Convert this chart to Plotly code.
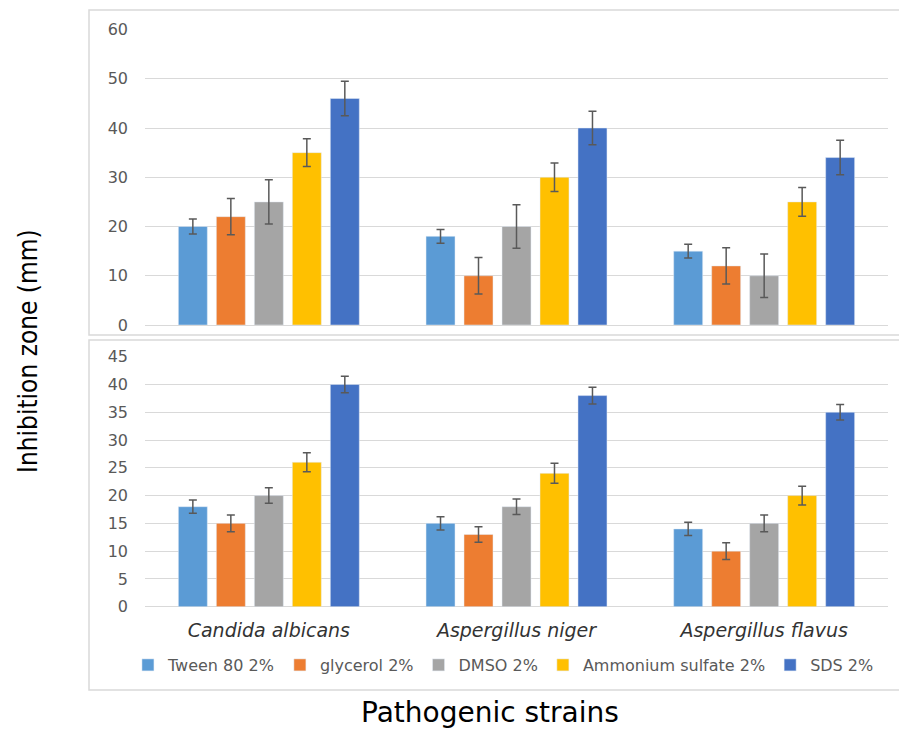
import plotly.graph_objects as go

categories = ["Candida albicans", "Aspergillus niger", "Aspergillus flavus"]
series_names = ["Tween 80 2%", "glycerol 2%", "DMSO 2%", "Ammonium sulfate 2%", "SDS 2%"]
colors = ["#5B9BD5", "#ED7D31", "#A5A5A5", "#FFC000", "#4472C4"]

# Top panel values and errors (per series, per category)
top_tween = [20, 18, 15]
top_glycerol = [22, 10, 12]
top_dmso = [25, 20, 10]
top_ammonium = [35, 30, 25]
top_sds = [46, 40, 34]
top_err_tween = [1.5, 1.4, 1.4]
top_err_glycerol = [3.7, 3.7, 3.7]
top_err_dmso = [4.5, 4.4, 4.4]
top_err_ammonium = [2.8, 2.9, 2.9]
top_err_sds = [3.5, 3.4, 3.5]

# Bottom panel values and errors
bot_tween = [18, 15, 14]
bot_glycerol = [15, 13, 10]
bot_dmso = [20, 18, 15]
bot_ammonium = [26, 24, 20]
bot_sds = [40, 38, 35]
bot_err_tween = [1.2, 1.2, 1.2]
bot_err_glycerol = [1.5, 1.4, 1.5]
bot_err_dmso = [1.4, 1.4, 1.5]
bot_err_ammonium = [1.7, 1.8, 1.7]
bot_err_sds = [1.5, 1.5, 1.4]

top_vals = [top_tween, top_glycerol, top_dmso, top_ammonium, top_sds]
top_errs = [top_err_tween, top_err_glycerol, top_err_dmso, top_err_ammonium, top_err_sds]
bot_vals = [bot_tween, bot_glycerol, bot_dmso, bot_ammonium, bot_sds]
bot_errs = [bot_err_tween, bot_err_glycerol, bot_err_dmso, bot_err_ammonium, bot_err_sds]

W, H = 899, 731
def px(x):
    return x / W
def py(y):
    return 1 - y / H

err_style = dict(type="data", color="#595959", thickness=1.5, width=4)

fig = go.Figure()
for name, col, v, e in zip(series_names, colors, top_vals, top_errs):
    fig.add_trace(go.Bar(x=categories, y=v, name=name, marker_color=col,
                         error_y=dict(array=e, **err_style),
                         xaxis="x", yaxis="y", showlegend=False, legendgroup=name))
for name, col, v, e in zip(series_names, colors, bot_vals, bot_errs):
    fig.add_trace(go.Bar(x=categories, y=v, name=name, marker_color=col,
                         error_y=dict(array=e, **err_style),
                         xaxis="x2", yaxis="y2", showlegend=True, legendgroup=name))

tick_font = dict(family="DejaVu Sans", size=16, color="#595959")
grid = "#d9d9d9"

fig.update_layout(
    width=W, height=H,
    margin=dict(l=0, r=0, t=0, b=0, autoexpand=False),
    paper_bgcolor="white", plot_bgcolor="white",
    barmode="group", bargap=0.233, bargroupgap=0.237,
    xaxis=dict(domain=[px(145), px(888)], anchor="y", showticklabels=False,
               showgrid=False, showline=False, ticks="", automargin=False),
    yaxis=dict(domain=[py(325), py(29.5)], anchor="x", range=[0, 60], dtick=10,
               showgrid=True, gridcolor=grid, gridwidth=1.2, automargin=False,
               zeroline=True, zerolinecolor=grid, zerolinewidth=1.2,
               showline=False, ticks="", tickfont=tick_font, ticklabelstandoff=16),
    xaxis2=dict(domain=[px(145), px(888)], anchor="y2", showgrid=False, showline=False,
                ticks="", ticklabelstandoff=10, automargin=False,
                tickfont=dict(family="DejaVu Sans", size=19, color="#333333"),
                tickvals=categories,
                ticktext=["<i>%s</i>" % c for c in categories]),
    yaxis2=dict(domain=[py(606.7), py(356.7)], anchor="x2", range=[0, 45], dtick=5,
                showgrid=True, gridcolor=grid, gridwidth=1.2, automargin=False,
                zeroline=True, zerolinecolor=grid, zerolinewidth=1.2,
                showline=False, ticks="", tickfont=tick_font, ticklabelstandoff=16),
    legend=dict(orientation="h", x=0.56, xanchor="center", y=py(665), yanchor="middle",
                font=dict(family="DejaVu Sans", size=16, color="#595959"),
                itemwidth=30, bgcolor="rgba(0,0,0,0)", traceorder="normal"),
    shapes=[
        dict(type="rect", xref="paper", yref="paper", x0=px(89), x1=1.02,
             y0=py(335), y1=py(10), line=dict(color=grid, width=1.5), layer="below"),
        dict(type="rect", xref="paper", yref="paper", x0=px(89), x1=1.02,
             y0=py(690), y1=py(340), line=dict(color=grid, width=1.5), layer="below"),
    ],
    annotations=[
        dict(text="Inhibition zone (mm)", xref="paper", yref="paper", x=px(28), y=py(351),
             xanchor="center", yanchor="middle", textangle=-90, showarrow=False,
             font=dict(family="Liberation Sans Narrow, DejaVu Sans Condensed, Arial Narrow", size=26, color="#000000")),
        dict(text="Pathogenic strains", xref="paper", yref="paper", x=px(490), y=py(712),
             xanchor="center", yanchor="middle", showarrow=False,
             font=dict(family="DejaVu Sans", size=28, color="#000000")),
    ],
)

fig.write_html("out.html")
